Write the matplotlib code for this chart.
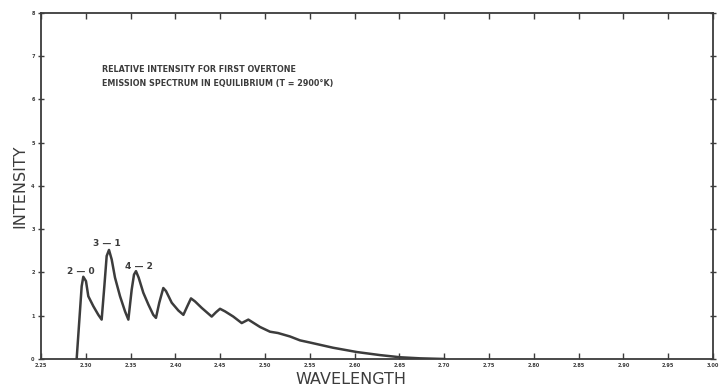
import matplotlib
matplotlib.use("Agg")
import matplotlib.pyplot as plt

# Measured emission spectrum (wavelength in microns, relative intensity)
wavelength = [2.2898, 2.2928, 2.2954, 2.2972, 2.3002, 2.3028, 2.3084, 2.3140, 2.3177,
              2.3207, 2.3233, 2.3259, 2.3289, 2.3326, 2.3382, 2.3438, 2.3475,
              2.3512, 2.3538, 2.3560, 2.3590, 2.3642, 2.3698, 2.3753, 2.3783,
              2.3820, 2.3865, 2.3895, 2.3959, 2.4033, 2.4089,
              2.4133, 2.4174, 2.4219, 2.4294, 2.4405,
              2.4453, 2.4498, 2.4554, 2.4646, 2.4740,
              2.4814, 2.4944, 2.5056, 2.5145, 2.5279, 2.5391, 2.5502,
              2.5759, 2.6027, 2.6283, 2.6507, 2.6730, 2.7000]
intensity = [0.00, 0.90, 1.68, 1.90, 1.80, 1.45, 1.22, 1.02, 0.91,
             1.68, 2.38, 2.52, 2.30, 1.88, 1.45, 1.10, 0.91,
             1.60, 1.95, 2.03, 1.88, 1.53, 1.26, 1.02, 0.95,
             1.30, 1.64, 1.57, 1.30, 1.12, 1.02,
             1.22, 1.40, 1.33, 1.18, 0.98,
             1.08, 1.16, 1.10, 0.98, 0.83,
             0.91, 0.74, 0.63, 0.60, 0.52, 0.43, 0.38,
             0.26, 0.16, 0.09, 0.04, 0.015, 0.0]

x_ticks = [2.25, 2.30, 2.35, 2.40, 2.45, 2.50, 2.55, 2.60, 2.65, 2.70,
           2.75, 2.80, 2.85, 2.90, 2.95, 3.00]
x_tick_labels = ["2.25", "2.30", "2.35", "2.40", "2.45", "2.50", "2.55", "2.60",
                 "2.65", "2.70", "2.75", "2.80", "2.85", "2.90", "2.95", "3.00"]
y_ticks = [0, 1, 2, 3, 4, 5, 6, 7, 8]
y_tick_labels = ["0", "1", "2", "3", "4", "5", "6", "7", "8"]

# Band labels (upper-lower vibrational level) placed above their peaks
band_labels = ["2—0", "3—1", "4—2"]
band_x = [2.2946, 2.3231, 2.3588]
band_y = [2.02, 2.67, 2.14]

ink = "#3c3c3c"

fig = plt.figure(figsize=(7.23, 3.87), dpi=100)
ax = fig.add_axes([0.0567, 0.0724, 0.9295, 0.8945])

ax.plot(wavelength, intensity, color=ink, lw=1.8, solid_joinstyle="round")

ax.set_xlim(2.25, 3.00)
ax.set_ylim(0, 8)
ax.set_xticks(x_ticks)
ax.set_xticklabels(x_tick_labels, fontsize=3.6, fontweight="bold", color=ink)
ax.set_yticks(y_ticks)
ax.set_yticklabels(y_tick_labels, fontsize=3.6, fontweight="bold", color=ink)

for s in ax.spines.values():
    s.set_color(ink)
    s.set_linewidth(1.3)

ax.tick_params(axis="both", direction="in", length=4, width=1.0, color=ink,
               top=True, right=True, pad=3)
ax.tick_params(axis="y", direction="inout", length=5, pad=2)

fig.text(0.4855, 0.0194, "WAVELENGTH", fontsize=11.5, color=ink,
         ha="center", va="center")
ax.set_ylabel("INTENSITY", fontsize=11.5, color=ink, labelpad=3)

ax.text(2.3178, 6.70, "RELATIVE INTENSITY FOR FIRST OVERTONE",
        fontsize=5.8, fontweight="bold", color=ink, va="center")
ax.text(2.3178, 6.37, "EMISSION SPECTRUM IN EQUILIBRIUM (T = 2900°K)",
        fontsize=5.8, fontweight="bold", color=ink, va="center")

for lbl, bx, by in zip(band_labels, band_x, band_y):
    ax.text(bx, by, lbl.replace("—", " — "), fontsize=6.5, fontweight="bold",
            color=ink, ha="center", va="center")

fig.savefig("out.png", dpi=100, facecolor="white")
